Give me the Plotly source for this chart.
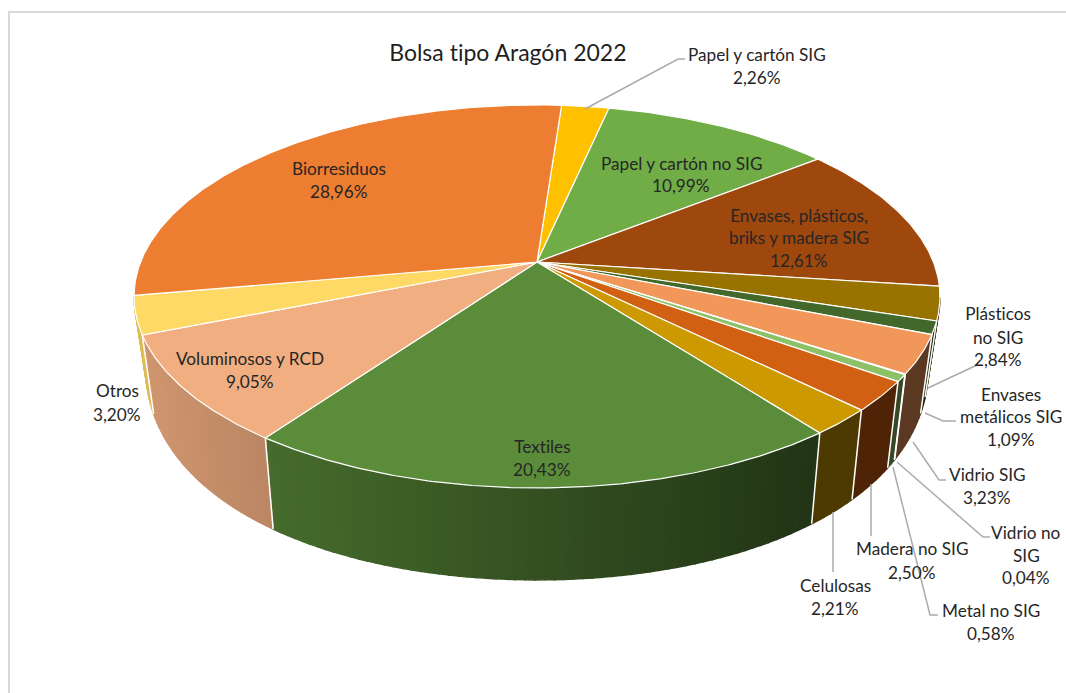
import numpy as np
import plotly.graph_objects as go

TITLE = "Bolsa tipo Aragón 2022"

# clockwise from the top of the pie
categories = [
    "Papel y cartón SIG", "Papel y cartón no SIG", "Envases, plásticos, briks y madera SIG",
    "Plásticos no SIG", "Envases metálicos SIG", "Vidrio SIG", "Vidrio no SIG",
    "Metal no SIG", "Madera no SIG", "Celulosas", "Textiles",
    "Voluminosos y RCD", "Otros", "Biorresiduos",
]
values = [2.26, 10.99, 12.61, 2.84, 1.09, 3.23, 0.04, 0.58, 2.50, 2.21, 20.43, 9.05, 3.20, 28.96]
colors = [
    "#FFC000", "#70AD47", "#9E480E", "#997300", "#43682B", "#F1975A", "#A5A5A5",
    "#8CC168", "#D26012", "#CC9A00", "#5B8C3A", "#F1AE81", "#FFD966", "#ED7D31",
]

# text blocks: lines, centre x, y of each line
labels = [
    (["Papel y cartón SIG", "2,26%"], 757, [54, 77]),
    (["Papel y cartón no SIG", "10,99%"], 681, [163, 185]),
    (["Envases, plásticos,", "briks y madera SIG", "12,61%"], 799, [215, 237, 260]),
    (["Biorresiduos", "28,96%"], 339, [168, 191]),
    (["Voluminosos y RCD", "9,05%"], 250, [358, 381]),
    (["Textiles", "20,43%"], 542, [446, 469]),
    (["Otros", "3,20%"], 117, [390, 414]),
    (["Plásticos", "no SIG", "2,84%"], 998, [313, 337, 359]),
    (["Envases", "metálicos SIG", "1,09%"], 1011, [394, 416, 439]),
    (["Vidrio SIG", "3,23%"], 987, [474, 497]),
    (["Vidrio no", "SIG", "0,04%"], 1026, [532, 555, 577]),
    (["Madera no SIG", "2,50%"], 912, [548, 572]),
    (["Celulosas", "2,21%"], 835, [585, 608]),
    (["Metal no SIG", "0,58%"], 991, [610, 633]),
]

leaders = [
    ([585, 678, 685], [109, 59, 59]),
    ([928, 977], [388, 365]),
    ([925, 943, 956], [413, 421, 421]),
    ([913, 939, 946], [442, 480, 480]),
    ([897, 983, 990], [462, 537, 537]),
    ([893, 930, 938], [467, 615, 615]),
    ([871, 871], [484, 536]),
    ([833, 833], [512, 572]),
]

# Pie projection, fitted by eye to the tilted perspective
CX, CY = 537, 262
A_TOP, B_TOP, K_TOP = 396.4, 185.3, 0.18
A_BOT, Y_BOT, B_BOT, K_BOT = 385, 322, 245, 0.05
START_DEG = 4.2


def top_xy(theta):
    u, v = np.sin(theta), np.cos(theta)
    d = 1 + K_TOP * v
    return CX + A_TOP * u / d, CY - B_TOP * v / d


def bottom_xy(theta):
    u, v = np.sin(theta), np.cos(theta)
    return CX + A_BOT * u / (1 + K_TOP * v), Y_BOT - B_BOT * v / (1 + K_BOT * v)


def shade(hex_color, x):
    # side wall gets darker from left to right
    m = float(np.clip(0.77 - 0.00072 * (x - 270), 0.38, 0.9))
    r, g, b = [int(hex_color[i:i + 2], 16) for i in (1, 3, 5)]
    return f"rgb({int(r * m)},{int(g * m)},{int(b * m)})"


fig = go.Figure()

edges = np.radians(START_DEG + 360 * np.cumsum([0] + values) / sum(values))

# side walls, cut in thin strips for the gradient
for i, color in enumerate(colors):
    t0, t1 = edges[i], edges[i + 1]
    n = max(2, int(np.degrees(t1 - t0) / 1.2) + 1)
    steps = np.linspace(t0, t1, n + 1)
    for a, b in zip(steps[:-1], steps[1:]):
        # back of the pie is hidden, the widest point sits at cos = -K_TOP
        if np.cos((a + b) / 2) > -K_TOP:
            continue
        xa, ya = top_xy(a)
        xb, yb = top_xy(b)
        xc, yc = bottom_xy(b)
        xd, yd = bottom_xy(a)
        c = shade(color, (xa + xb) / 2)
        fig.add_trace(go.Scatter(
            x=[xa, xb, xc, xd, xa], y=[ya, yb, yc, yd, ya],
            mode="lines", fill="toself", fillcolor=c,
            line=dict(color=c, width=1.5), hoverinfo="skip",
        ))

# white seams on the walls
for t in edges[:-1]:
    if np.cos(t) < -0.2:
        x0, y0 = top_xy(t)
        x1, y1 = bottom_xy(t)
        fig.add_trace(go.Scatter(
            x=[x0, x1], y=[y0, y1], mode="lines",
            line=dict(color="white", width=1.5), hoverinfo="skip",
        ))

# top face
for i, color in enumerate(colors):
    arc = np.linspace(edges[i], edges[i + 1], max(3, int(values[i] * 8)))
    xs, ys = top_xy(arc)
    fig.add_trace(go.Scatter(
        x=[CX, *xs, CX], y=[CY, *ys, CY],
        mode="lines", fill="toself", fillcolor=color,
        line=dict(color="white", width=1.2), hoverinfo="skip",
        name=categories[i],
    ))

for lx, ly in leaders:
    fig.add_trace(go.Scatter(
        x=lx, y=ly, mode="lines",
        line=dict(color="#ABABAB", width=1.5), hoverinfo="skip",
    ))

annotations = [dict(
    text=TITLE, x=508, y=52, xref="x", yref="y", showarrow=False,
    font=dict(family="Lato", size=23, color="#1F1F1F"),
)]
for lines, cx, line_ys in labels:
    for line, ly in zip(lines, line_ys):
        annotations.append(dict(
            text=line, x=cx, y=ly, xref="x", yref="y", showarrow=False,
            font=dict(family="Lato", size=17.2, color="#262626"),
        ))

fig.update_layout(
    width=1066, height=693,
    margin=dict(l=0, r=0, t=0, b=0),
    paper_bgcolor="white", plot_bgcolor="white",
    showlegend=False,
    xaxis=dict(range=[0, 1066], visible=False, fixedrange=True),
    yaxis=dict(range=[693, 0], visible=False, fixedrange=True),
    annotations=annotations,
    shapes=[
        dict(type="line", x0=9, x1=9, y0=12, y1=693, line=dict(color="#D9D9D9", width=2)),
        dict(type="line", x0=8, x1=1066, y0=12, y1=12, line=dict(color="#D9D9D9", width=2)),
    ],
)

# the page's default body margin would push the chart 8px off; Lato's "ti" ligature is off too
page_js = (
    "document.body.style.margin='0';document.body.style.overflow='hidden';"
    "document.querySelectorAll('svg text').forEach(function(t){"
    "t.style.setProperty('font-variant-ligatures','none','important');"
    "t.style.setProperty('font-feature-settings','\"liga\" 0,\"clig\" 0,\"calt\" 0','important');"
    "});"
)
fig.write_html("out.html", config=dict(displayModeBar=False), post_script=page_js)
